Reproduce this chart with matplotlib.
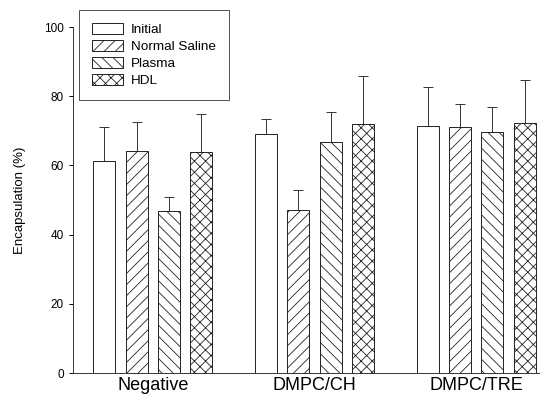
import matplotlib
matplotlib.use("Agg")
import matplotlib.pyplot as plt
import numpy as np

categories = ["Negative", "DMPC/CH", "DMPC/TRE"]
series = ["Initial", "Normal Saline", "Plasma", "HDL"]
hatches = ["", "///", "\\\\\\", "xxx"]
means = {
    "Initial":       [61.3, 69.0, 71.5],
    "Normal Saline": [64.3, 47.0, 71.2],
    "Plasma":        [46.7, 66.8, 69.7],
    "HDL":           [64.0, 72.0, 72.3],
}
err_tops = {
    "Initial":       [71.0, 73.3, 82.6],
    "Normal Saline": [72.5, 53.0, 77.7],
    "Plasma":        [50.8, 75.4, 76.9],
    "HDL":           [75.0, 85.7, 84.7],
}
yticks = [0, 20, 40, 60, 80, 100]

plt.rcParams["font.family"] = ["Liberation Sans", "DejaVu Sans"]
plt.rcParams["hatch.linewidth"] = 0.6

fig = plt.figure(figsize=(5.47, 3.96), dpi=100)
ax = fig.add_axes([73/547, 1-373/396, (539-73)/547, (373-27)/396])

x = np.arange(len(categories))
pitch = 0.2
width = 0.136
for i, s in enumerate(series):
    pos = x + (i - 1.5) * pitch
    m = np.array(means[s])
    e = np.array(err_tops[s]) - m
    ax.bar(pos, m, width, facecolor="white", edgecolor="#222222",
           hatch=hatches[i], linewidth=0.7, label=s, zorder=2)
    ax.errorbar(pos, m, yerr=[np.zeros_like(e), e], fmt="none",
                ecolor="#333333", elinewidth=0.7, capsize=3.5, capthick=0.7, zorder=1)

ax.set_ylim(0, 100)
ax.set_xlim(-0.494, 2 + (539-476)/162)
ax.set_yticks(yticks)
ax.set_xticks(x)
ax.set_xticklabels(categories, fontsize=13)
ax.tick_params(axis="x", length=0, pad=3)
ax.tick_params(axis="y", labelsize=8.5, length=3, width=0.7, direction="out")
ax.set_ylabel("Encapsulation (%)", fontsize=9.5, labelpad=13)
for sp in ["top", "right"]:
    ax.spines[sp].set_visible(False)
for sp in ["left", "bottom"]:
    ax.spines[sp].set_linewidth(0.7)
    ax.spines[sp].set_color("#333333")

leg = ax.legend(loc="upper left", bbox_to_anchor=(79/547, 1-10/396),
                bbox_transform=fig.transFigure, fontsize=9.7, frameon=True,
                fancybox=False, edgecolor="#222222", handlelength=2.3,
                handleheight=0.85, labelspacing=0.3, borderpad=0.95,
                handletextpad=0.6, borderaxespad=0)
leg.get_frame().set_linewidth(0.7)
leg.set_zorder(5)

fig.savefig("out.png", dpi=100)
